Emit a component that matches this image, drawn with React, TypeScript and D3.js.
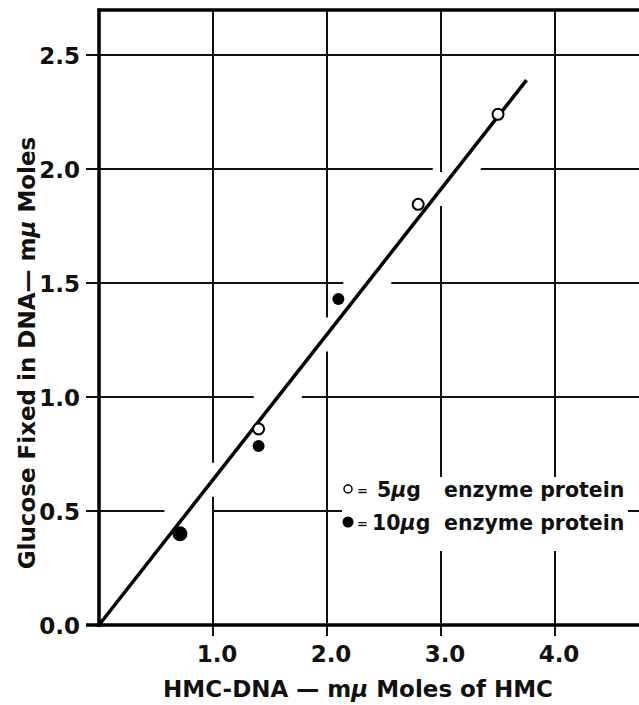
import React, { useRef, useEffect } from 'react'
import * as d3 from 'd3'

// values
const openX = [1.4, 2.8, 3.5]
const openY = [0.86, 1.845, 2.24]
const filledX = [0.71, 1.4, 2.1]
const filledY = [0.4, 0.785, 1.43]
const fitX = [0, 3.75]
const fitY = [0, 2.39]
const xTicks = [1.0, 2.0, 3.0, 4.0]
const yTicks = [0.0, 0.5, 1.0, 1.5, 2.0, 2.5]
const legendLabels = ['5', '10']

const App = () => {
    const visEl = useRef(null)
    const width = 639
    const height = 705

    useEffect(() => {
        const root = d3.select(visEl.current)
        root.selectAll('*').remove()
        const svg = root.append('svg')
            .attr('width', width)
            .attr('height', height)
            .style('position', 'absolute')
            .style('left', '0px')
            .style('top', '0px')
            .style('background', '#fff')

        const font = '"DejaVu Sans", sans-serif'
        const x = d3.scaleLinear().domain([0, 4]).range([99, 555])
        const y = d3.scaleLinear().domain([0, 2.5]).range([625, 55])
        const top = 10
        const right = width
        const slope = (fitY[1] - fitY[0]) / (fitX[1] - fitX[0])

        const grid = svg.append('g').attr('stroke', '#111').attr('stroke-width', 2)

        // horizontal grid lines, broken where the fitted line crosses them
        yTicks.forEach(v => {
            const left = 86
            if (v === 0) return
            const cx = v / slope
            if (cx <= fitX[1]) {
                const px = x(cx)
                grid.append('line').attr('x1', left).attr('x2', px - 24).attr('y1', y(v)).attr('y2', y(v))
                grid.append('line').attr('x1', px + 24).attr('x2', right).attr('y1', y(v)).attr('y2', y(v))
            } else {
                grid.append('line').attr('x1', left).attr('x2', right).attr('y1', y(v)).attr('y2', y(v))
            }
        })

        // vertical grid lines
        xTicks.forEach(u => {
            const bottom = 636
            const cy = slope * u
            if (cy <= fitY[1]) {
                const py = y(cy)
                grid.append('line').attr('x1', x(u)).attr('x2', x(u)).attr('y1', top).attr('y2', py - 17)
                grid.append('line').attr('x1', x(u)).attr('x2', x(u)).attr('y1', py + 17).attr('y2', bottom)
            } else {
                grid.append('line').attr('x1', x(u)).attr('x2', x(u)).attr('y1', top).attr('y2', bottom)
            }
        })

        // legend background wipes the grid
        svg.append('rect')
            .attr('x', 342).attr('y', 477)
            .attr('width', 286).attr('height', 74)
            .attr('fill', '#fff')

        // frame
        const frame = svg.append('g').attr('stroke', '#000').attr('stroke-width', 3.5).attr('fill', 'none')
        frame.append('line').attr('x1', x(0)).attr('x2', x(0)).attr('y1', top - 1.5).attr('y2', y(0) + 2)
        frame.append('line').attr('x1', x(0) - 1.5).attr('x2', right).attr('y1', top).attr('y2', top)
        frame.append('line').attr('x1', 86).attr('x2', right).attr('y1', y(0)).attr('y2', y(0))

        // fitted line
        const line = d3.line<number>().x((d, i) => x(fitX[i])).y(d => y(d))
        svg.append('path')
            .datum(fitY)
            .attr('d', line)
            .attr('fill', 'none')
            .attr('stroke', '#000')
            .attr('stroke-width', 3.5)

        // points
        svg.selectAll('.open').data(openX).enter().append('circle')
            .attr('cx', d => x(d))
            .attr('cy', (d, i) => y(openY[i]))
            .attr('r', 5.5)
            .attr('fill', '#fff')
            .attr('stroke', '#000')
            .attr('stroke-width', 2)
        svg.selectAll('.filled').data(filledX).enter().append('circle')
            .attr('cx', d => x(d))
            .attr('cy', (d, i) => y(filledY[i]))
            .attr('r', (d, i) => i === 0 ? 7.5 : 6)
            .attr('fill', '#000')

        // tick labels
        const labels = svg.append('g')
            .attr('font-family', font)
            .attr('font-weight', 'bold')
            .attr('font-size', 23)
            .attr('fill', '#111')
        yTicks.forEach(v => {
            labels.append('text')
                .attr('x', 80)
                .attr('y', y(v) + 9)
                .attr('text-anchor', 'end')
                .text(v.toFixed(1))
        })
        xTicks.forEach(u => {
            labels.append('text')
                .attr('x', x(u) + 4)
                .attr('y', 662)
                .attr('text-anchor', 'middle')
                .text(u.toFixed(1))
        })

        // axis titles
        const xt = labels.append('text')
            .attr('x', 358)
            .attr('y', 697)
            .attr('text-anchor', 'middle')
        xt.append('tspan').text('HMC-DNA \u2014 m')
        xt.append('tspan').attr('font-style', 'italic').text('\u03bc')
        xt.append('tspan').text(' Moles of HMC')

        const yt = labels.append('text')
            .attr('transform', 'translate(35,353) rotate(-90)')
            .attr('text-anchor', 'middle')
        yt.append('tspan').text('Glucose Fixed in DNA\u2014 m')
        yt.append('tspan').attr('font-style', 'italic').text('\u03bc')
        yt.append('tspan').text(' Moles')

        // legend
        const legend = svg.append('g')
            .attr('font-family', font)
            .attr('font-weight', 'bold')
            .attr('font-size', 20.5)
            .attr('fill', '#111')
        legendLabels.forEach((lab, i) => {
            const base = 497 + i * 33
            legend.append('circle')
                .attr('cx', 348)
                .attr('cy', base - 8)
                .attr('r', i === 0 ? 4 : 5.5)
                .attr('fill', i === 0 ? '#fff' : '#000')
                .attr('stroke', '#000')
                .attr('stroke-width', i === 0 ? 1.5 : 0)
            legend.append('text').attr('x', 357).attr('y', base - 2).attr('font-size', 13).text('=')
            const t = legend.append('text').attr('x', i === 0 ? 377 : 372).attr('y', base)
            t.append('tspan').text(lab)
            t.append('tspan').attr('font-style', 'italic').text('\u03bc')
            t.append('tspan').text('g')
            legend.append('text').attr('x', 444).attr('y', base).text('enzyme protein')
        })
    }, [])

    return (
        <div>
            <div ref={visEl}></div>
        </div>
    )
}

export default App
